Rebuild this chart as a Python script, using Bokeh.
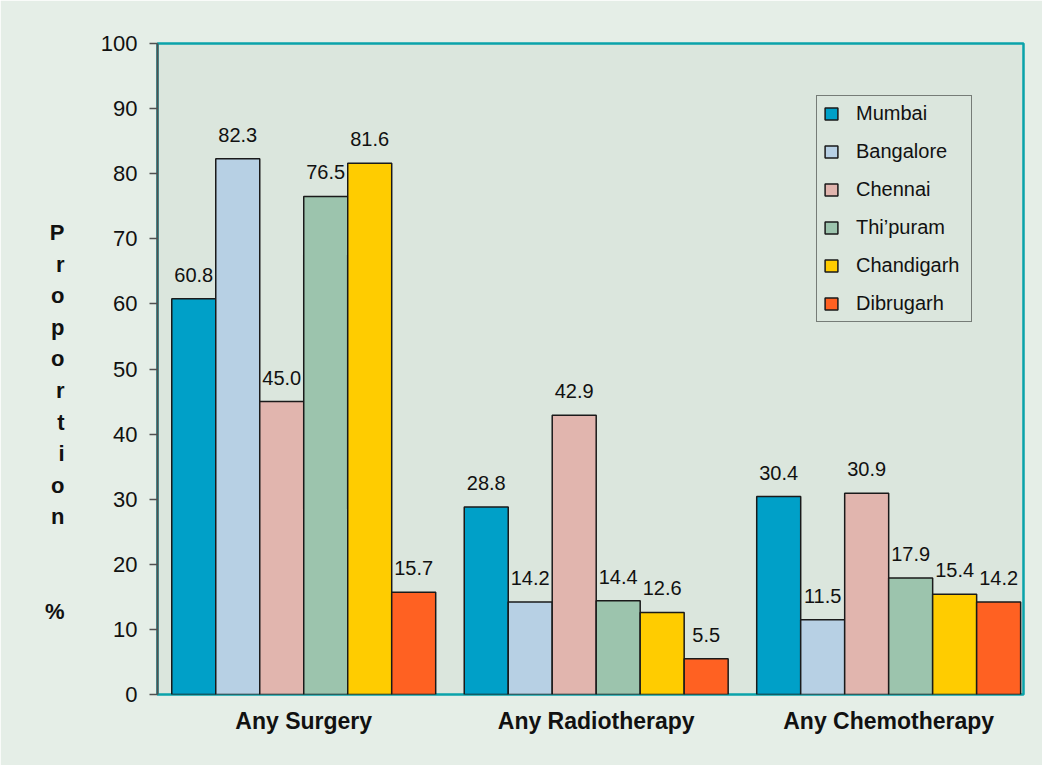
from bokeh.plotting import figure
from bokeh.models import (ColumnDataSource, Range1d, LinearAxis, FixedTicker, Legend,
                          LegendItem, LabelSet)
from bokeh.core.properties import value
from bokeh.embed import file_html
from bokeh.resources import INLINE

# ---- data ----
groups = ["Any Surgery", "Any Radiotherapy", "Any Chemotherapy"]
cities = ["Mumbai", "Bangalore", "Chennai", "Thi\u2019puram", "Chandigarh", "Dibrugarh"]
mumbai = [60.8, 28.8, 30.4]
bangalore = [82.3, 14.2, 11.5]
chennai = [45.0, 42.9, 30.9]
thiruvananthapuram = [76.5, 14.4, 17.9]
chandigarh = [81.6, 12.6, 15.4]
dibrugarh = [15.7, 5.5, 14.2]
series = [mumbai, bangalore, chennai, thiruvananthapuram, chandigarh, dibrugarh]
y_ticks = list(range(0, 101, 10))
axis_title = list("Proportion") + ["%"]

colors = ["#00A0C8", "#B7D0E4", "#E1B5AE", "#9CC4AD", "#FFCC00", "#FF6122"]
FONT = "Liberation Sans"

LEFT, TOP, FW, FH = 157, 43, 866, 651
W, H = 1042, 765
p = figure(width=W, height=H, output_backend="svg", toolbar_location=None,
           x_range=Range1d(0, 2.961), y_range=Range1d(0, 100),
           x_axis_location=None, y_axis_location="left",
           min_border_left=LEFT, min_border_right=W - LEFT - FW,
           min_border_top=TOP, min_border_bottom=H - TOP - FH)
p.background_fill_color = "#DBE6DD"
p.border_fill_color = "#E5EEE7"
p.outline_line_color = "#0AA3AA"
p.outline_line_width = 2.5
p.grid.visible = False

# y axis
ya = p.yaxis[0]
ya.ticker = FixedTicker(ticks=y_ticks)
ya.axis_line_color = "#505050"
ya.axis_line_width = 2
ya.major_tick_line_color = "#505050"
ya.major_tick_line_width = 1.5
ya.major_tick_in = 0
ya.major_tick_out = 8
ya.minor_tick_line_color = None
ya.major_label_text_font = FONT
ya.major_label_text_font_size = "22px"
ya.major_label_text_color = "#111111"
ya.major_label_standoff = 12

# stacked letters of the y title, drawn as an extra axis in pixel-row units
p.extra_y_ranges = {"rows": Range1d(TOP + FH, TOP)}
letter_rows = [round(232 + 31.6 * k) for k in range(10)] + [611]
ta = LinearAxis(y_range_name="rows", ticker=FixedTicker(ticks=letter_rows),
                major_label_overrides={r: ch for r, ch in zip(letter_rows, axis_title)})
ta.axis_line_color = None
ta.major_tick_line_color = None
ta.minor_tick_line_color = None
ta.major_tick_in = 0
ta.major_tick_out = 0
ta.major_label_text_font = FONT
ta.major_label_text_font_style = "bold"
ta.major_label_text_font_size = "22px"
ta.major_label_text_color = "#111111"
ta.major_label_standoff = 33
p.add_layout(ta, "left")

# x axis with group labels
xa = LinearAxis(ticker=FixedTicker(ticks=[0.5, 1.5, 2.5]),
                major_label_overrides={0.5: groups[0], 1.5: groups[1], 2.5: groups[2]})
xa.axis_line_color = None
xa.major_tick_line_color = None
xa.minor_tick_line_color = None
xa.major_tick_in = 0
xa.major_tick_out = 0
xa.major_label_text_font = FONT
xa.major_label_text_font_style = "bold"
xa.major_label_text_font_size = "23px"
xa.major_label_text_color = "#111111"
xa.major_label_standoff = 13
p.add_layout(xa, "below")

bw = 0.1504
items = []
lx, ly, lt = [], [], []
for i, (city, vals, c) in enumerate(zip(cities, series, colors)):
    xs = [g + 0.5 + (i - 2.5) * bw for g in range(len(groups))]
    src = ColumnDataSource(dict(x=xs, top=vals))
    r = p.vbar(x="x", top="top", width=bw, bottom=0, source=src,
               fill_color=c, line_color="#1A1A1A", line_width=1.5)
    items.append(LegendItem(label=city, renderers=[r]))
    lx += xs
    ly += vals
    lt += [f"{v:.1f}" for v in vals]

lsrc = ColumnDataSource(dict(x=lx, y=ly, t=lt))
labels = LabelSet(x="x", y="y", text="t", source=lsrc, y_offset=17,
                  text_align="center", text_baseline="alphabetic",
                  text_font=value(FONT), text_font_size=value("20px"), text_color="#111111")
p.add_layout(labels)

legend = Legend(items=items, location=(659, 372), orientation="vertical",
                glyph_width=16, glyph_height=15, label_height=20, label_width=109,
                label_standoff=17, spacing=15, padding=6, margin=0,
                label_text_font=FONT, label_text_font_size="20px", label_text_color="#111111",
                border_line_color="#111111", border_line_width=1.5,
                background_fill_color="#DBE6DD", background_fill_alpha=1)
p.add_layout(legend, "center")

open("out.html", "w").write(file_html(p, INLINE))
